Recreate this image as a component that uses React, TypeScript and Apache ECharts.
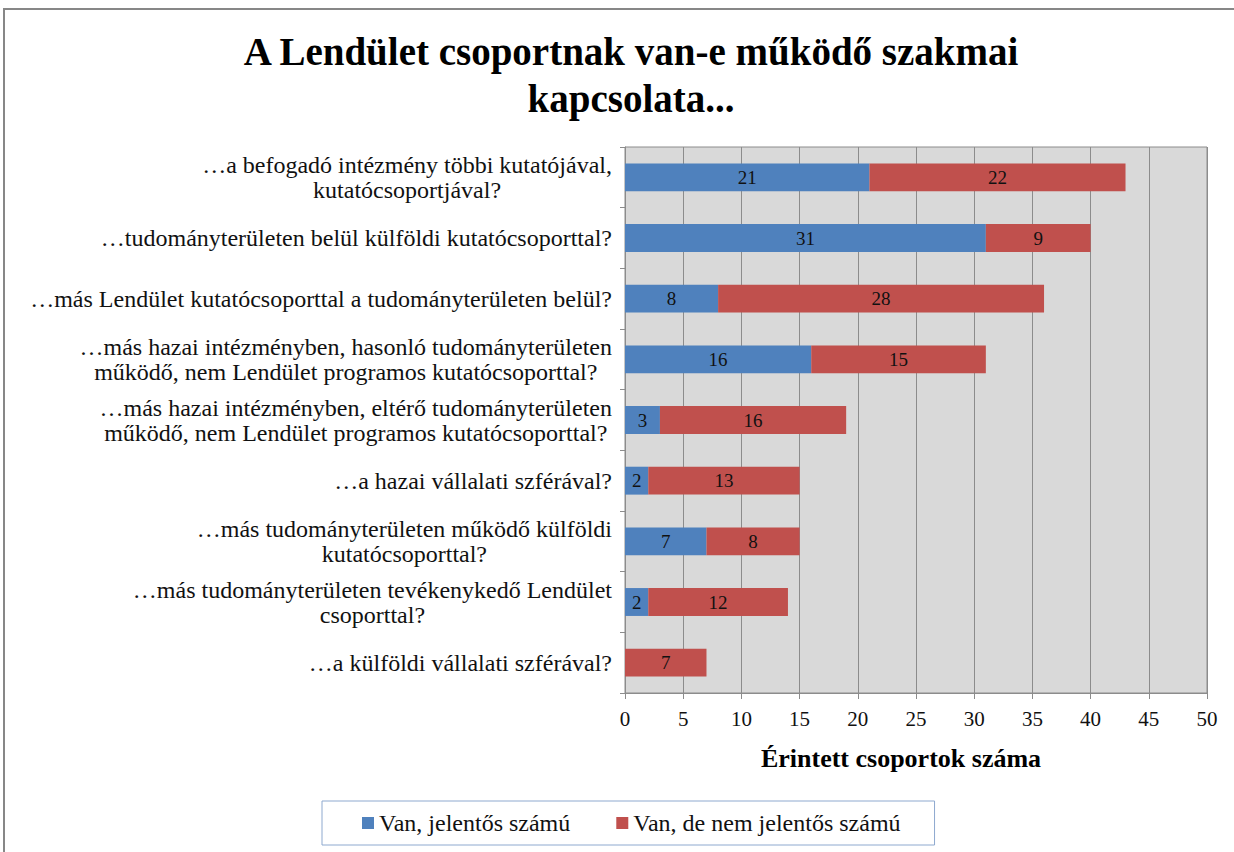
import React, { useEffect, useRef } from "react";
import * as echarts from "echarts";

const titleText = "A Lendület csoportnak van-e működő szakmai\nkapcsolata...";
const categories = [
  "…a befogadó intézmény többi kutatójával,\nkutatócsoportjával?",
  "…tudományterületen belül külföldi kutatócsoporttal?",
  "…más Lendület kutatócsoporttal a tudományterületen belül?",
  "…más hazai intézményben, hasonló tudományterületen\nműködő, nem Lendület programos kutatócsoporttal?",
  "…más hazai intézményben, eltérő tudományterületen\nműködő, nem Lendület programos kutatócsoporttal?",
  "…a hazai vállalati szférával?",
  "…más tudományterületen működő külföldi\nkutatócsoporttal?",
  "…más tudományterületen tevékenykedő Lendület\ncsoporttal?",
  "…a külföldi vállalati szférával?",
];
const seriesNames = ["Van, jelentős számú", "Van, de nem jelentős számú"];
const significant = [21, 31, 8, 16, 3, 2, 7, 2, null];
const notSignificant = [22, 9, 28, 15, 16, 13, 8, 12, 7];
const xMin = 0;
const xMax = 50;
const xInterval = 5;
const xAxisName = "Érintett csoportok száma";

const SERIF = "'Liberation Serif', 'DejaVu Serif', serif";

export default function App() {
  const ref = useRef<HTMLDivElement>(null);
  useEffect(() => {
    document.body.style.margin = "0";
    const chart = echarts.init(ref.current!, null, { renderer: "svg" });
    const labelStyle = {
      show: true,
      position: "inside",
      color: "#111",
      fontSize: 19,
      fontFamily: SERIF,
    };
    chart.setOption({
      animation: false,
      backgroundColor: "#ffffff",
      textStyle: { fontFamily: SERIF },
      title: {
        text: titleText,
        left: 626,
        textAlign: "center",
        top: 23,
        textStyle: {
          fontFamily: SERIF,
          fontWeight: "bold",
          fontSize: 39,
          lineHeight: 47,
          color: "#000",
        },
      },
      graphic: [
        {
          type: "rect",
          shape: { x: 4, y: 9, width: 1300, height: 900 },
          style: { fill: "none", stroke: "#878787", lineWidth: 2 },
          silent: true,
        },
      ],
      legend: {
        bottom: 7,
        left: 322,
        itemWidth: 12,
        itemHeight: 12,
        itemGap: 46,
        icon: "rect",
        borderColor: "#8EA9CF",
        borderWidth: 1,
        padding: [10, 34, 10, 40],
        textStyle: { fontFamily: SERIF, fontSize: 24, color: "#111" },
        data: seriesNames,
      },
      grid: {
        left: 625,
        right: 27,
        top: 147,
        bottom: 159,
        show: true,
        backgroundColor: "#D9D9D9",
        borderColor: "#8c8c8c",
        borderWidth: 1,
      },
      xAxis: {
        type: "value",
        min: xMin,
        max: xMax,
        interval: xInterval,
        name: xAxisName,
        nameLocation: "middle",
        nameGap: 52,
        nameTextStyle: {
          fontFamily: SERIF,
          fontWeight: "bold",
          fontSize: 26,
          color: "#000",
          padding: [0, 30, 0, 0],
        },
        axisLine: { show: true, lineStyle: { color: "#8c8c8c" } },
        axisTick: { show: true, length: 6, lineStyle: { color: "#8c8c8c" } },
        axisLabel: { fontFamily: SERIF, fontSize: 21, color: "#111", margin: 15 },
        splitLine: { show: true, lineStyle: { color: "#8c8c8c", width: 1 } },
      },
      yAxis: {
        type: "category",
        inverse: true,
        data: categories,
        axisLine: { show: true, lineStyle: { color: "#8c8c8c" } },
        axisTick: { show: true, length: 5, lineStyle: { color: "#8c8c8c" } },
        axisLabel: {
          margin: 13,
          color: "#111",
          fontFamily: SERIF,
          fontSize: 24,
          lineHeight: 25,
          formatter: (v: string) =>
            v
              .split("\n")
              .map((l) => `{c|${l}}`)
              .join("\n"),
          rich: {
            c: {
              align: "center",
              fontFamily: SERIF,
              fontSize: 24,
              lineHeight: 25,
              color: "#111",
            },
          },
        },
      },
      series: [
        {
          name: seriesNames[0],
          type: "bar",
          stack: "total",
          barWidth: "46%",
          data: significant,
          itemStyle: { color: "#4F81BD" },
          label: labelStyle,
        },
        {
          name: seriesNames[1],
          type: "bar",
          stack: "total",
          barWidth: "46%",
          data: notSignificant,
          itemStyle: { color: "#C0504D" },
          label: labelStyle,
        },
      ],
    });
    return () => chart.dispose();
  }, []);
  return <div ref={ref} style={{ width: 1234, height: 852 }} />;
}
